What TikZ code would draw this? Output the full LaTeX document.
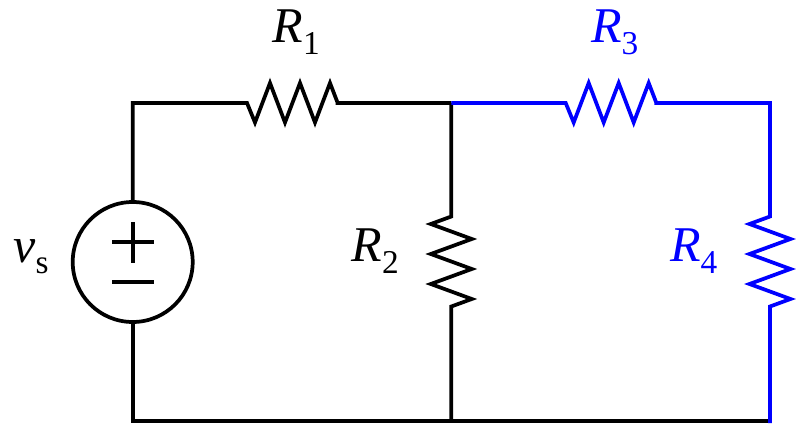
\documentclass[tikz,border=0pt]{standalone}
\usepackage{fontspec}
\setmainfont{Liberation Serif}
\definecolor{wireblue}{RGB}{0,0,255}
\newcommand{\lblfont}{\fontsize{37.5pt}{40pt}\selectfont}
\newcommand{\subfont}{\fontsize{25pt}{28pt}\selectfont}
\newcommand{\lbl}[2]{{\lblfont\textit{#1}}\raisebox{-8.8pt}{\subfont #2}}
\tikzset{
  x=0.75pt, y=-0.75pt,
  wire/.style={line width=2.8pt, line join=miter, line cap=butt},
  blackwire/.style={wire, draw=black},
  bluewire/.style={wire, draw=wireblue},
  lab/.style={anchor=base west, inner sep=0pt, outer sep=0pt},
  hres/.style={to path={-- ++(0,0) -- ++(8,19.5) -- ++(15,-39.5) -- ++(15,39.5) -- ++(15,-39.5) -- ++(15,39.5) -- ++(15,-39.5) -- ++(7.5,19.5) -- (\tikztotarget)}},
  vres/.style={to path={-- ++(0,0) -- ++(-20.5,7.5) -- ++(41,15) -- ++(-41,15) -- ++(41,15) -- ++(-41,15) -- ++(41,15) -- ++(-20.5,7.5) -- (\tikztotarget)}}
}
\begin{document}
\begin{tikzpicture}
\useasboundingbox (0,0) rectangle (800,435);
\coordinate (tl) at (132.7,103);
\coordinate (bl) at (132.7,421);
\coordinate (tm) at (451.3,103);
\coordinate (bm) at (451.3,421);
\coordinate (tr) at (770,103);
\coordinate (br) at (770,421);
\coordinate (brend) at (770,423);
\coordinate (r1a) at (247,103);
\coordinate (r1b) at (337.5,103);
\coordinate (r3a) at (565.7,103);
\coordinate (r3b) at (656.2,103);
\coordinate (r2a) at (451.3,216.5);
\coordinate (r2b) at (451.3,307);
\coordinate (r4a) at (770,216.5);
\coordinate (r4b) at (770,307);
\node[circle, draw=black, line width=2.8pt, minimum size=90pt, inner sep=0pt] (src) at (132.7,262) {};
\coordinate (plusl) at (112,242);
\coordinate (plusr) at (154,242);
\coordinate (plust) at (132.7,222);
\coordinate (plusb) at (132.7,263);
\coordinate (minusl) at (112,282);
\coordinate (minusr) at (154,282);
% black part
\draw[blackwire] (src.north) -- (tl) -- (r1a) to[hres] (r1b) -- (tm);
\draw[blackwire] (src.south) -- (bl) -- (br);
\draw[blackwire] (tm) -- (r2a) to[vres] (r2b) -- (bm);
\draw[blackwire] (plusl) -- (plusr);
\draw[blackwire] (plust) -- (plusb);
\draw[blackwire] (minusl) -- (minusr);
% blue part
\draw[bluewire] (tm) -- (r3a) to[hres] (r3b) -- (tr) -- (r4a) to[vres] (r4b) -- (brend);
% labels
\node[lab] (lr1) at (272.5,43) {\lbl{R}{1}};
\node[lab] (lr2) at (351.5,261.5) {\lbl{R}{2}};
\node[lab, text=wireblue] (lr3) at (591,43) {\lbl{R}{3}};
\node[lab, text=wireblue] (lr4) at (670,261.5) {\lbl{R}{4}};
\node[lab] (lvs) at (13.5,262) {\lbl{v}{s}};
\end{tikzpicture}
\end{document}
